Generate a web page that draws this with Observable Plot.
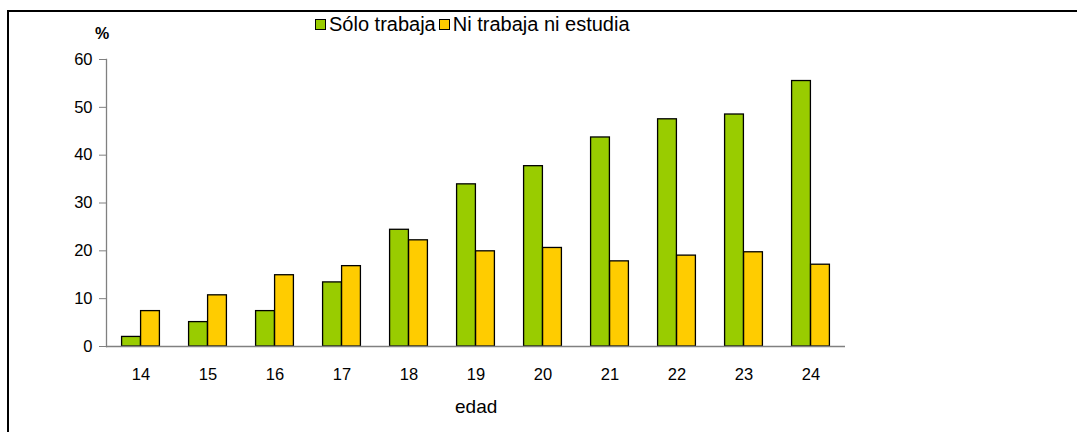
<!DOCTYPE html>
<html>
<head>
<meta charset="utf-8">
<script src="https://cdn.jsdelivr.net/npm/d3@7"></script>
<script src="https://cdn.jsdelivr.net/npm/@observablehq/plot@0.6"></script>
<style>
  body { margin: 0; background: #fff; font-family: "Liberation Sans", Arial, sans-serif; }
  #wrap { position: relative; width: 1077px; height: 432px; overflow: hidden; background: #fff; }
  #chart { position: absolute; left: 0; top: 0; }
  #frame { position: absolute; left: 7px; top: 10px; width: 1200px; height: 600px;
           border-top: 2px solid #000; border-left: 2px solid #000; pointer-events: none; z-index: 5; }
  #legend { position: absolute; left: 315px; top: 11px; font-size: 20px; line-height: 22px; color: #000; white-space: nowrap; z-index: 6; }
  #legend .item { display: inline-flex; align-items: center; margin-right: 3px; }
  #legend .sw { width: 9px; height: 9px; border: 1px solid #000; margin-right: 3px; display: inline-block; position: relative; top: 1px; }
  .lbl { position: absolute; color: #000; z-index: 6; white-space: nowrap; }
</style>
</head>
<body>
<div id="wrap">
  <div id="chart"></div>
  <div id="frame"></div>
  <div id="legend"></div>
  <div class="lbl" id="pct" style="left:95px; top:25px; font-size:16px; font-weight:bold;">%</div>
  <div class="lbl" id="xlab" style="left:455px; top:396px; font-size:19px;">edad</div>
</div>
<script>
const ages = ["14", "15", "16", "17", "18", "19", "20", "21", "22", "23", "24"];
const soloTrabaja = [2.0, 5.1, 7.4, 13.4, 24.4, 33.9, 37.7, 43.7, 47.5, 48.5, 55.5];
const niTrabajaNiEstudia = [7.4, 10.7, 14.9, 16.8, 22.2, 19.9, 20.6, 17.8, 19.0, 19.7, 17.1];
const seriesNames = ["Sólo trabaja", "Ni trabaja ni estudia"];
const seriesColors = ["#99CC00", "#FFCC00"];
const yTicks = [0, 10, 20, 30, 40, 50, 60];

const greenData = ages.map((a, i) => ({ age: a, value: soloTrabaja[i] }));
const yellowData = ages.map((a, i) => ({ age: a, value: niTrabajaNiEstudia[i] }));

const W = 1077, H = 432;
const mL = 106, mR = 232, mT = 59, mB = 86;
const step = (W - mL - mR) / ages.length;
const barW = 19;

const plot = Plot.plot({
  width: W,
  height: H,
  marginLeft: mL,
  marginRight: mR,
  marginTop: mT,
  marginBottom: mB,
  style: { fontFamily: "Liberation Sans, Arial, sans-serif", fontSize: "16px", color: "#000", background: "transparent" },
  x: { domain: ages, padding: 0, axis: null },
  y: { domain: [0, 60], axis: null },
  marks: [
    Plot.barY(greenData, {
      x: "age", y: "value", fill: seriesColors[0], stroke: "#000", strokeWidth: 1.3,
      insetLeft: step / 2 - barW, insetRight: step / 2
    }),
    Plot.barY(yellowData, {
      x: "age", y: "value", fill: seriesColors[1], stroke: "#000", strokeWidth: 1.3,
      insetLeft: step / 2, insetRight: step / 2 - barW
    }),
    Plot.frame({ anchor: "left", stroke: "#808080", strokeWidth: 1.3 }),
    Plot.ruleY([0], { stroke: "#808080", strokeWidth: 1.3 }),
    Plot.axisY({ ticks: yTicks, tickSize: 7, tickPadding: 7, fontSize: 16.5, stroke: "#808080", fill: "#000", label: null }),
    Plot.axisX({ tickSize: 0, tickPadding: 22, fontSize: 16.5, fill: "#000", label: null })
  ]
});
document.getElementById("chart").appendChild(plot);

const legend = document.getElementById("legend");
seriesNames.forEach((name, i) => {
  const item = document.createElement("span");
  item.className = "item";
  const sw = document.createElement("span");
  sw.className = "sw";
  sw.style.background = seriesColors[i];
  item.appendChild(sw);
  item.appendChild(document.createTextNode(name));
  legend.appendChild(item);
});
</script>
</body>
</html>
